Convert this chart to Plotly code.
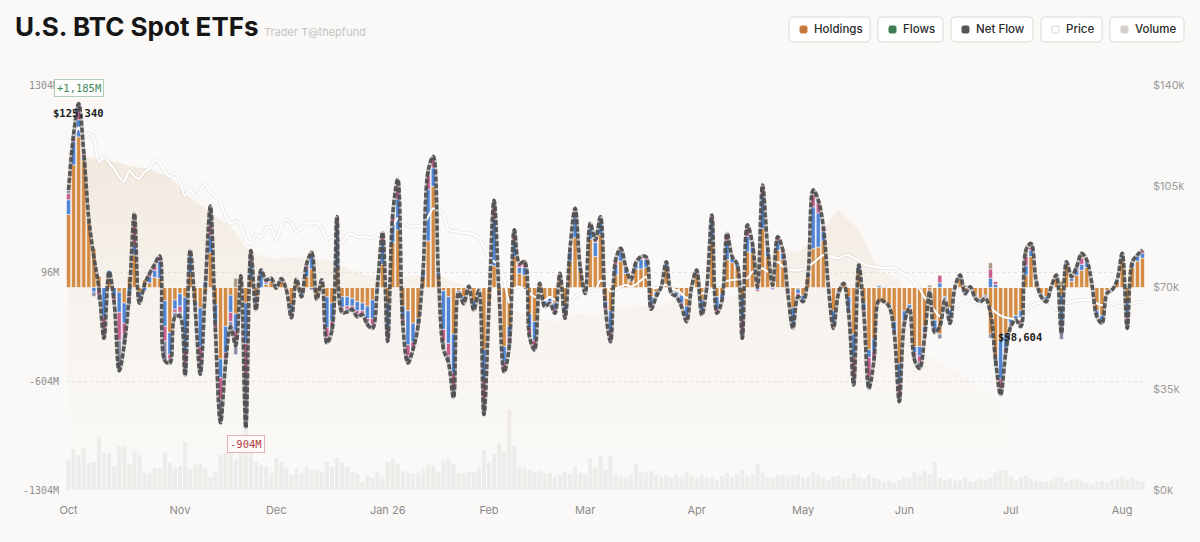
import pandas as pd
import plotly.graph_objects as go

#### trading days (US market holidays removed)
holidays = ['2025-11-27', '2025-12-25', '2026-01-01', '2026-01-19', '2026-02-16',
            '2026-04-03', '2026-05-25', '2026-06-19', '2026-07-03']
days = [d.strftime('%Y-%m-%d') for d in pd.bdate_range('2025-10-02', '2026-08-07')]
dates = [d for d in days if d not in holidays]

month_labels = ['Oct', 'Nov', 'Dec', 'Jan 26', 'Feb', 'Mar', 'Apr', 'May', 'Jun', 'Jul', 'Aug']

#### daily net flow, $M
net = [
    627, 985, 1185, 875, 441, 198, -5, -327, 103, -94,
    -536, -367, -41, 477, -101, 20, 91, 149, 203, -471,
    -488, -192, -187, -566, 240, -137, -558, 1, 524, -278,
    -870, -492, -255, -373, 75, -904, 238, -145, 113, 48,
    60, -4, 58, -15, -195, 55, -60, 152, 224, -77,
    49, -358, -277, 457, -161, -158, -142, -189, -175, -240,
    -263, 20, 355, -348, 471, 697, -243, -486, -399, -250,
    117, 754, 844, 100, -395, -483, -709, -32, -104, 7,
    -147, -20, -818, -120, 562, -50, -545, -380, 371, 156,
    166, -317, -403, 27, -123, -102, -166, 91, -199, 252,
    510, 134, -38, 413, 306, 456, -140, -349, 177, 252,
    134, 48, 160, 198, 198, -140, -59, 5, 166, -38,
    -59, -123, -220, 5, 113, -177, 5, 467, -166, -81,
    349, 198, 150, -327, 403, 284, 5, 660, 263, 16,
    327, 242, -38, -263, -59, -91, 91, 628, 563, 392,
    5, -263, -38, 27, -166, -628, 145, -166, -650, -467,
    -81, -91, -123, -295, -735, -231, -134, -467, -521, -317,
    -27, -290, -250, -81, -231, 5, 80, -38, 5, -70,
    -91, -70, -166, -467, -692, -424, -252, -209, -252, 242,
    284, 48, -59, -91, 5, 80, -295, 166, 70, 134,
    220, 177, 27, -188, -231, -38, -16, 48, 220, -263,
    166, 209, 242,
]

# per-fund flows, $M (GBTC row is what is left of the net)
ibit = [
    470, 790, 970, 820, 425, 255, 75, 0, 60, 0,
    -30, -100, 70, 210, -30, 50, 30, 65, 60, -85,
    -290, -80, -40, -63, 90, -90, -130, -30, 225, -110,
    -460, -250, -50, -170, 0, -100, 60, -60, 0, 20,
    40, -10, 40, -10, -110, 40, -30, 70, 120, -60,
    20, -60, -100, 120, -60, -60, -70, -90, -100, -120,
    -80, 40, 150, -100, 290, 370, -120, -150, -230, -200,
    70, 300, 650, 80, -20, -60, -300, -20, -60, 10,
    -90, -10, -400, -90, 140, -30, -380, -250, 200, 90,
    80, -170, -220, 20, -80, -70, -100, 60, -120, 170,
    320, 110, -10, 310, 200, 340, -90, -150, 80, 170,
    90, 40, 120, 120, 130, -60, -30, 10, 130, -20,
    -30, -50, -120, 5, 90, -80, 10, 300, -60, -40,
    180, 160, 130, -60, 230, 220, 30, 380, 200, 30,
    240, 180, -10, -130, -10, -50, 70, 250, 260, 300,
    10, -150, -20, 20, -60, -300, 100, -100, -400, -330,
    -100, -100, -110, -220, -490, -150, -110, -380, -380, -250,
    -20, -210, -300, -60, -130, 10, 60, -20, 10, -50,
    -70, -50, -300, -450, -340, -300, -200, -180, -150, 80,
    200, 30, -40, -60, 10, 60, -50, 150, 40, 80,
    110, 130, 20, -150, -180, -20, -10, 40, 190, -100,
    130, 170, 190,
]
fbtc = [
    95, 150, 110, 20, 0, -30, -20, -190, 50, -60,
    -130, -130, -60, 60, -40, -20, 40, 45, 110, -165,
    -140, -60, -80, -350, 115, -30, -250, 40, 110, -120,
    -120, -170, -110, -110, 0, -260, 100, -40, 110, 10,
    20, 5, 10, 0, -50, 10, -20, 50, 80, -10,
    20, -200, -120, 260, -70, -60, -50, -60, -50, -80,
    -120, -10, 140, -160, 120, 200, -80, -220, -120, -30,
    30, 330, 120, 20, -250, -300, -250, -10, -30, 0,
    -40, -10, -200, -20, 300, -10, -100, -70, 100, 40,
    50, -90, -120, 5, -30, -20, -40, 20, -50, 60,
    130, 20, -25, 70, 90, 90, -40, -140, 70, 60,
    30, 5, 30, 60, 50, -60, -20, 0, 30, -10,
    -20, -50, -70, 0, 20, -70, -5, 130, -80, -30,
    120, 30, 20, -150, 100, 40, -15, 210, 50, -10,
    60, 40, -20, -100, -30, -30, 20, 270, 220, 60,
    0, -80, -10, 5, -80, -150, 40, -50, -50, -80,
    10, 5, -10, -60, -130, -60, -20, -40, -60, -40,
    0, -60, 30, -10, -60, 0, 20, -10, 0, -10,
    -10, -10, 60, 20, -250, -90, -30, -20, -60, 60,
    40, 10, -10, -20, 0, 10, -170, 10, 20, 30,
    40, 30, 5, -30, -40, -10, -5, 5, 20, -80,
    30, 30, 30,
]
arkb = [
    40, 25, 60, 20, 10, 0, -30, -80, 0, -20,
    -180, -70, -20, 160, -10, -5, 20, 30, 30, -95,
    -30, -20, -40, -90, 20, -10, -100, 0, 70, -30,
    -140, -40, -60, -60, 0, -200, 20, -30, 0, 20,
    0, 0, 5, -5, -20, 5, -10, 20, 20, -5,
    5, -60, -40, 50, -20, -20, -15, -20, -20, -20,
    -40, -5, 40, -60, 40, 80, -30, -70, -30, -10,
    10, 90, 50, 0, -80, -80, -100, 0, -10, -5,
    -10, 0, -120, -10, 80, -10, -40, -40, 40, 20,
    25, -40, -40, 0, -10, -10, -20, 10, -20, 20,
    40, 0, -5, 20, 10, 20, -10, -40, 20, 15,
    10, 0, 10, 10, 10, -15, -5, 0, 0, -5,
    -5, -15, -20, 0, 0, -20, 0, 30, -20, -10,
    40, 5, 0, -80, 50, 20, -10, 60, 10, -5,
    20, 20, -10, -30, -20, -10, 0, 80, 60, 30,
    -5, -30, -5, 0, -20, -130, 0, -10, -130, -40,
    5, 0, 0, -10, -80, -10, 0, -20, -40, -10,
    0, -10, 50, -5, -10, 0, 0, 0, 0, -5,
    -5, -5, 60, 20, -60, -20, -10, 0, -20, 60,
    20, 0, 0, -5, 0, 0, 0, 0, 0, 10,
    40, 10, 0, 0, 0, -5, 0, 0, 0, -20,
    0, 5, 15,
]
# smaller funds, only on the days they show
others = {33: 60, 34: 55, 36: 58, 48: 20, 90: 25, 156: 15, 170: 15, 177: 15,
          182: 40, 189: 30, 190: 25, 196: 40, 200: 30}

#### BTC price, $k
price = [
    120.5, 122.3, 125.34, 121.4, 123.3, 121.7, 113.2, 115.2, 113.1, 111.0,
    108.2, 106.5, 110.5, 108.4, 107.6, 110.0, 111.1, 114.1, 113.0, 110.0,
    108.3, 109.6, 106.5, 101.5, 103.9, 101.3, 103.4, 105.8, 103.0, 101.6,
    99.7, 94.5, 92.1, 92.9, 91.5, 86.6, 85.0, 88.3, 87.4, 90.5,
    90.9, 86.3, 91.3, 93.5, 92.1, 89.4, 90.6, 92.7, 92.0, 92.5,
    90.3, 86.4, 87.8, 86.2, 85.5, 88.1, 88.5, 87.5, 87.6, 87.3,
    87.1, 88.4, 87.5, 89.9, 91.5, 93.9, 93.0, 91.3, 91.0, 91.2,
    91.6, 94.5, 97.4, 96.5, 95.4, 89.9, 89.5, 89.3, 88.9, 88.7,
    88.2, 87.0, 84.1, 80.5, 79.0, 77.8, 72.6, 64.6, 69.7, 70.3,
    69.0, 68.0, 66.8, 66.5, 65.5, 66.8, 65.7, 64.8, 64.2, 64.5,
    66.8, 68.0, 68.6, 68.8, 69.1, 72.4, 71.4, 68.6, 69.5, 70.3,
    70.9, 70.3, 71.0, 72.5, 73.7, 70.3, 69.8, 70.5, 70.9, 69.7,
    69.1, 68.0, 66.3, 67.5, 68.0, 68.0, 68.5, 69.1, 70.5, 72.0,
    72.3, 72.6, 72.8, 73.0, 73.2, 75.5, 76.0, 76.6, 75.5, 76.5,
    78.9, 77.2, 76.5, 76.0, 76.0, 76.3, 76.8, 78.5, 80.0, 81.2,
    81.0, 80.4, 80.1, 81.0, 81.2, 80.2, 79.5, 78.3, 77.5, 77.2,
    77.0, 76.8, 76.7, 76.6, 75.8, 74.5, 73.5, 71.5, 69.5, 66.5,
    64.5, 62.0, 60.0, 62.5, 62.5, 63.0, 64.0, 65.5, 65.5, 65.0,
    64.5, 64.0, 63.0, 61.5, 60.3, 59.6, 59.3, 58.604, 59.5, 61.8,
    63.5, 64.5, 64.8, 65.1, 64.5, 62.2, 63.9, 64.5, 65.1, 65.5,
    65.7, 65.7, 65.7, 64.5, 63.9, 64.2, 64.5, 63.7, 63.4, 63.4,
    64.5, 64.8, 65.1,
]

#### ETF volume, $B
volume = [
    2.96, 4.05, 3.46, 4.15, 2.67, 2.77, 5.23, 3.65, 3.65, 2.37,
    4.35, 4.35, 2.57, 3.85, 3.46, 1.88, 1.68, 2.17, 2.17, 3.75,
    2.67, 2.17, 2.37, 4.74, 2.07, 2.47, 2.67, 2.17, 1.28, 1.88,
    3.46, 3.75, 3.65, 3.06, 3.75, 5.93, 3.65, 2.77, 2.47, 2.27,
    1.68, 3.16, 2.77, 2.17, 1.48, 2.07, 1.68, 2.27, 1.98, 1.98,
    1.78, 2.77, 2.27, 3.16, 2.77, 2.27, 1.78, 1.58, 0.79, 1.48,
    1.19, 1.78, 1.28, 2.77, 3.06, 2.6, 1.9, 1.7, 1.6, 1.7,
    2.1, 2.5, 2.4, 1.8, 2.9, 3.0, 2.6, 1.7, 1.6, 1.8,
    1.7, 2.2, 3.95, 2.8, 3.6, 4.6, 3.8, 7.9, 4.3, 2.3,
    2.2, 2.0, 1.8, 1.9, 1.6, 1.7, 1.3, 1.5, 1.8, 1.6,
    2.3, 1.7, 1.5, 3.1, 2.2, 3.45, 2.0, 3.3, 1.5, 1.4,
    1.2, 1.5, 2.6, 1.8, 1.7, 1.9, 1.5, 1.3, 1.4, 1.2,
    1.5, 1.3, 1.8, 1.4, 1.2, 1.5, 1.3, 1.2, 1.0, 1.4,
    1.7, 1.3, 1.5, 2.0, 1.4, 1.6, 2.5, 1.7, 1.3, 1.2,
    1.5, 1.5, 1.3, 1.4, 1.5, 1.2, 1.3, 1.8, 1.5, 1.2,
    1.0, 1.3, 1.4, 1.1, 1.2, 1.6, 1.3, 1.1, 1.5, 1.2,
    1.1, 0.8, 0.9, 0.7, 1.0, 1.3, 1.2, 1.8, 1.5, 1.9,
    1.6, 2.8, 1.2, 1.0, 1.1, 0.9, 1.0, 1.2, 0.8, 0.9,
    1.1, 1.0, 1.2, 1.7, 2.0, 1.9, 1.3, 0.9, 1.2, 1.4,
    1.1, 0.9, 0.8, 0.8, 0.9, 1.2, 1.3, 0.8, 1.0, 1.1,
    0.9, 0.7, 0.6, 0.8, 0.9, 0.8, 1.0, 1.1, 1.3, 1.0,
    1.2, 0.9, 0.8,
]

#### holdings value (same $k scale as price), every 4th session
hold_idx = list(range(0, 213, 4))
hold_val = [117, 115, 114, 112, 111, 108, 101, 96, 91, 82,
            80, 80.5, 80, 79, 76, 74, 73, 74, 75, 72,
            70, 67, 62, 60, 58, 61, 60, 62, 64, 63,
            66, 65, 64, 68, 74, 84, 82, 88, 97, 90,
            76, 73, 48, 44, 40, 35, 30, 0, 0, 0,
            0, 0, 0, 0]

for arr in (net, ibit, fbtc, arkb, price, volume):
    assert len(arr) == len(dates), len(arr)
assert len(hold_idx) == len(hold_val)

oth = [others.get(i, 0) for i in range(len(dates))]
gbtc = [n - a - b - c - o for n, a, b, c, o in zip(net, ibit, fbtc, arkb, oth)]

# first session of each month -> tick
tickvals = []
for d in dates:
    if not tickvals or d[:7] != tickvals[-1][:7]:
        tickvals.append(d)

######## figure
W, H = 1200, 542
L, R, T, B = 66, 55, 85, 52
PW, PH = W - L - R, H - T - B

def px(x):
    return (x - L) / PW

def py(y):
    return (H - B - y) / PH

fig = go.Figure()

# volume (bottom layer)
fig.add_trace(go.Bar(x=dates, y=volume, yaxis='y', marker_color='rgba(205,202,197,0.26)',
                     marker_line_width=0, name='Volume'))

# holdings area
fig.add_trace(go.Scatter(x=[dates[i] for i in hold_idx], y=hold_val, yaxis='y2', mode='lines',
                         line=dict(width=0), fill='tozeroy', name='Holdings',
                         fillgradient=dict(type='vertical', start=10, stop=125,
                                           colorscale=[[0, 'rgba(238,225,212,0)'],
                                                       [1, 'rgba(230,208,186,0.45)']])))

# stacked fund flows
fund_cols = [('IBIT', ibit, '#D38B45'), ('FBTC', fbtc, '#5085D6'), ('ARKB', arkb, '#C65F8E'),
             ('GBTC', gbtc, '#8B8EA5'), ('Others', oth, '#AA9C82')]
for nm, vals, col in fund_cols:
    fig.add_trace(go.Bar(x=dates, y=vals, yaxis='y3', name=nm, marker_color=col,
                         marker_line=dict(color='rgba(255,255,255,0.85)', width=0.6)))

# price line with soft shadow
fig.add_trace(go.Scatter(x=dates, y=price, yaxis='y4', mode='lines',
                         line=dict(color='rgba(0,0,0,0.08)', width=3.8, shape='spline', smoothing=0.6)))
fig.add_trace(go.Scatter(x=dates, y=price, yaxis='y4', mode='lines', name='Price',
                         line=dict(color='white', width=2.2, shape='spline', smoothing=0.6)))

# net flow line: translucent core + dark dashes
fig.add_trace(go.Scatter(x=dates, y=net, yaxis='y5', mode='lines',
                         line=dict(color='rgba(80,80,80,0.30)', width=3.6, shape='spline', smoothing=1)))
fig.add_trace(go.Scatter(x=dates, y=net, yaxis='y5', mode='lines', name='Net Flow',
                         line=dict(color='rgba(78,78,78,0.92)', width=3.6, dash='5px,2px',
                                   shape='spline', smoothing=1)))

flow_range = [-1304, 1304]
price_range = [0, 140]
mono = 'DejaVu Sans Mono'

fig.update_layout(
    width=W, height=H, margin=dict(l=L, r=R, t=T, b=B),
    paper_bgcolor='#FAF9F7', plot_bgcolor='#FAF9F7',
    showlegend=False, barmode='relative', bargap=0.2,
    font=dict(family='Inter', color='#333'),
    xaxis=dict(type='category', range=[-0.5, len(dates) - 0.5], tickvals=tickvals,
               ticktext=month_labels, showgrid=False, zeroline=False, ticks='',
               tickfont=dict(size=11, color='#8a8a8a'), ticklabelstandoff=12),
    yaxis=dict(range=[0, 40], visible=False, fixedrange=True),
    yaxis2=dict(range=price_range, overlaying='y', visible=False),
    yaxis3=dict(range=flow_range, overlaying='y', side='left',
                tickvals=[1304, 96, -604, -1304], ticktext=['1304M', '96M', '-604M', '-1304M'],
                showgrid=True, gridcolor='rgba(0,0,0,0.09)', griddash='dot', gridwidth=1,
                zeroline=False, ticks='', tickfont=dict(family=mono, size=10, color='#8f8f8f'),
                ticklabelstandoff=6),
    yaxis4=dict(range=price_range, overlaying='y', side='right',
                tickvals=[0, 35, 70, 105, 140], ticktext=['$0k', '$35k', '$70k', '$105k', '$140k'],
                showgrid=False, zeroline=False, ticks='',
                tickfont=dict(size=11, color='#9a9a9a'), ticklabelstandoff=7),
    yaxis5=dict(range=flow_range, overlaying='y', visible=False),
)

ann = []
# title
ann.append(dict(xref='paper', yref='paper', x=px(13), y=py(27), xanchor='left', yanchor='middle',
                text='<b>U.S. BTC Spot ETFs</b>', showarrow=False,
                font=dict(family='Inter', size=26, color='#161616')))
ann.append(dict(xref='paper', yref='paper', x=px(262), y=py(32), xanchor='left', yanchor='middle',
                text='Trader T@thepfund', showarrow=False, font=dict(size=11, color='#c4c4c4')))

# legend buttons
shapes = []

def rrect(x0, y0, x1, y1, r):
    pts = f"M {px(x0 + r)},{py(y0)} L {px(x1 - r)},{py(y0)} Q {px(x1)},{py(y0)} {px(x1)},{py(y0 + r)} " \
          f"L {px(x1)},{py(y1 - r)} Q {px(x1)},{py(y1)} {px(x1 - r)},{py(y1)} " \
          f"L {px(x0 + r)},{py(y1)} Q {px(x0)},{py(y1)} {px(x0)},{py(y1 - r)} " \
          f"L {px(x0)},{py(y0 + r)} Q {px(x0)},{py(y0)} {px(x0 + r)},{py(y0)} Z"
    return pts

legend_items = [('Holdings', '#C8793A', 789, 870), ('Flows', '#3F7D52', 878, 943),
                ('Net Flow', '#555555', 951, 1033), ('Price', '#FFFFFF', 1041, 1102),
                ('Volume', '#D3CFCA', 1110, 1184)]
for lab, col, x0, x1 in legend_items:
    shapes.append(dict(type='path', xref='paper', yref='paper', path=rrect(x0, 17, x1, 42, 4),
                       line=dict(color='#DEDAD4', width=1), fillcolor='#FFFFFF', layer='above'))
    shapes.append(dict(type='path', xref='paper', yref='paper',
                       path=rrect(x0 + 11, 26, x0 + 18, 33, 1.5),
                       line=dict(color='#D8D4CE' if col == '#FFFFFF' else col, width=1),
                       fillcolor=col, layer='above'))
    ann.append(dict(xref='paper', yref='paper', x=px(x0 + 23), y=py(29.5), xanchor='left',
                    yanchor='middle', text=lab, showarrow=False,
                    font=dict(size=11.5, color='#2a2a2a', weight=500)))

# extremes
imax = max(range(len(net)), key=lambda i: net[i])
imin = min(range(len(net)), key=lambda i: net[i])
pmax = max(range(len(price)), key=lambda i: price[i])
pmin = min(range(len(price)), key=lambda i: price[i])

ann.append(dict(x=dates[imax], y=net[imax], xref='x', yref='y5', yshift=15, showarrow=False,
                text=f"+{net[imax]:,}M", font=dict(family=mono, size=10.5, color='#3E8A56'),
                bgcolor='rgba(252,253,252,0.95)', bordercolor='rgba(80,150,100,0.45)',
                borderwidth=1, borderpad=2))
ann.append(dict(x=dates[imin], y=net[imin], xref='x', yref='y5', yshift=-16, showarrow=False,
                text=f"{net[imin]:,}M", font=dict(family=mono, size=10.5, color='#B2403F'),
                bgcolor='rgba(253,251,251,0.95)', bordercolor='rgba(200,110,110,0.5)',
                borderwidth=1, borderpad=2))
ann.append(dict(x=dates[pmax], y=price[pmax], xref='x', yref='y4', yshift=14, showarrow=False,
                text=f"${price[pmax] * 1000:,.0f}", font=dict(family=mono, size=10.5, color='#1c1c1c',
                                                               weight='bold')))
ann.append(dict(x=dates[pmin], y=price[pmin], xref='x', yref='y4', yshift=-17, xshift=4,
                showarrow=False, text=f"${price[pmin] * 1000:,.0f}",
                font=dict(family=mono, size=10.5, color='#1c1c1c', weight='bold')))

fig.update_layout(annotations=ann, shapes=shapes)

# page has no body margin, same background as the chart; no modebar
fig.write_html("out.html", config={'displayModeBar': False},
               post_script="document.body.style.margin='0';"
                           "document.body.style.background='#FAF9F7';")
